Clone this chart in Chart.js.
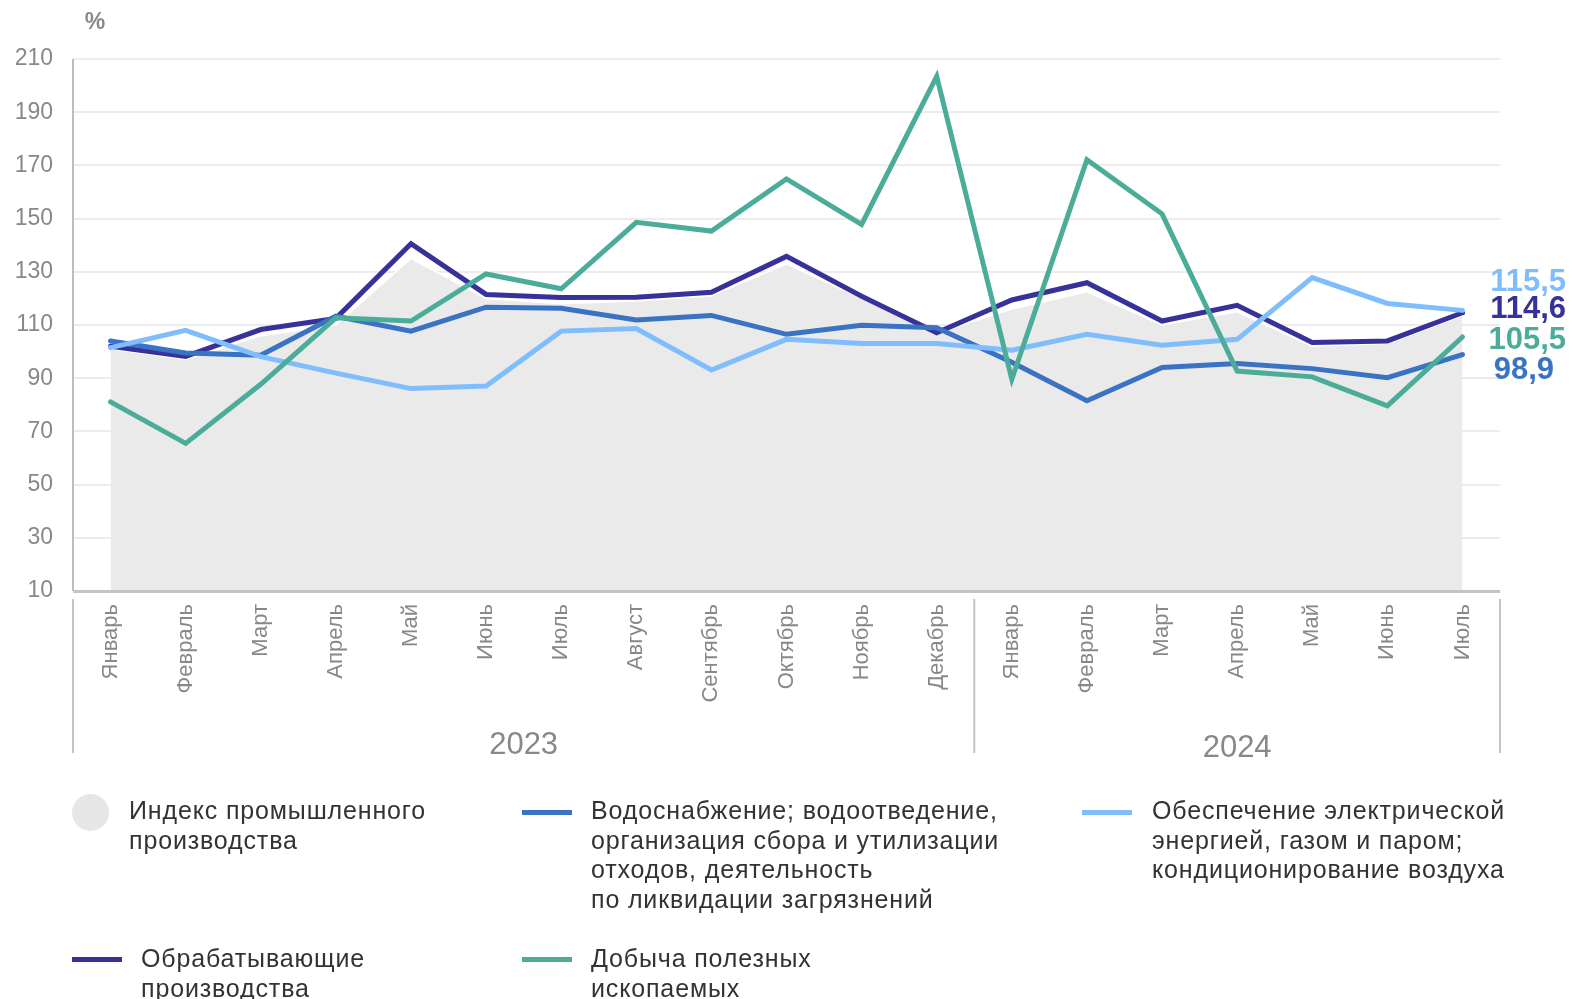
<!DOCTYPE html>
<html>
<head>
<meta charset="utf-8">
<script src="https://cdn.jsdelivr.net/npm/chart.js@4/dist/chart.umd.min.js"></script>
<style>
  html, body { margin: 0; padding: 0; background: #fff; }
  #wrap { position: relative; width: 1573px; height: 999px; overflow: hidden; font-family: Arial, "Liberation Sans", sans-serif; }
  canvas { position: absolute; left: 0; top: 0; }
  .lg { position: absolute; font-size: 25px; line-height: 29.5px; letter-spacing: 0.85px; color: #333; white-space: nowrap; }
  .mk { position: absolute; height: 5px; width: 50px; }
  .dot { position: absolute; width: 37px; height: 37px; border-radius: 50%; background: #e6e6e6; }
</style>
</head>
<body>
<div id="wrap">
  <canvas id="c" width="1573" height="999"></canvas>
  <div class="dot" style="left:72px; top:794px;"></div>
  <div class="lg" style="left:129px; top:796px;">Индекс промышленного<br>производства</div>
  <div class="mk" style="left:522px; top:810px; background:#3a72c4;"></div>
  <div class="lg" style="left:591px; top:796px;">Водоснабжение; водоотведение,<br>организация сбора и утилизации<br>отходов, деятельность<br>по ликвидации загрязнений</div>
  <div class="mk" style="left:1082px; top:810px; background:#80bdfd;"></div>
  <div class="lg" style="left:1152px; top:796px;">Обеспечение электрической<br>энергией, газом и паром;<br>кондиционирование воздуха</div>
  <div class="mk" style="left:72px; top:957px; background:#36329a;"></div>
  <div class="lg" style="left:141px; top:944px;">Обрабатывающие<br>производства</div>
  <div class="mk" style="left:522px; top:957px; background:#4bac99;"></div>
  <div class="lg" style="left:591px; top:944px;">Добыча полезных<br>ископаемых</div>
</div>
<script>
// ---- data ----
const months = ["Январь","Февраль","Март","Апрель","Май","Июнь","Июль","Август","Сентябрь","Октябрь","Ноябрь","Декабрь",
                "Январь","Февраль","Март","Апрель","Май","Июнь","Июль"];
const years = ["2023", "2024"];
const yearMonthCounts = [12, 7];
const yTicks = [10, 30, 50, 70, 90, 110, 130, 150, 170, 190, 210];

const industrialIndex = [101, 97, 106, 110, 135, 120, 118, 119, 121, 133, 120, 107, 116, 122.5, 110, 115, 102, 103, 113.5];
const manufacturing   = [102, 98.2, 108.3, 112.5, 140.6, 121.5, 120.3, 120.4, 122.3, 135.8, 120.8, 107.1, 119.4, 125.9, 111.5, 117.4, 103.4, 104, 114.6];
const waterSupply     = [104, 99.5, 98.6, 113.3, 107.7, 116.7, 116.3, 111.9, 113.6, 106.5, 109.9, 109, 96, 81.5, 94, 95.5, 93.6, 90.2, 98.9];
const electricity     = [101.5, 108, 98.1, 91.9, 86.1, 87.1, 107.7, 108.7, 93.1, 104.6, 103, 103, 100.5, 106.5, 102.4, 104.6, 127.8, 118.1, 115.5];
const mining          = [81.1, 65.5, 87.7, 112.7, 111.5, 129.2, 123.6, 148.6, 145.3, 164.9, 147.8, 203.5, 89.6, 172.1, 151.8, 92.7, 90.5, 79.6, 105.5];

const endLabels = [
  { text: "115,5", data: electricity,   color: "#80bdfd", dy: -28 },
  { text: "114,6", data: manufacturing, color: "#36329a", dy: -3 },
  { text: "105,5", data: mining,        color: "#4bac99", dy: 3 },
  { text: "98,9",  data: waterSupply,   color: "#3a72c4", dy: 16 }
];

const FONT = 'Arial, "Liberation Sans", sans-serif';

const decorPlugin = {
  id: 'decor',
  afterDraw(chart) {
    const ctx = chart.ctx;
    const xs = chart.scales.x, ys = chart.scales.y;
    const area = chart.chartArea;
    ctx.save();
    // axis lines
    ctx.strokeStyle = '#bdbdbd';
    ctx.lineWidth = 2;
    ctx.beginPath();
    ctx.moveTo(area.left, area.top); ctx.lineTo(area.left, area.bottom);
    ctx.stroke();
    ctx.lineWidth = 3;
    ctx.strokeStyle = '#c4c4c4';
    ctx.beginPath();
    ctx.moveTo(area.left, area.bottom + 0.5); ctx.lineTo(area.right, area.bottom + 0.5);
    ctx.stroke();
    // group separators
    const step = xs.getPixelForValue(1) - xs.getPixelForValue(0);
    const seps = [area.left];
    let idx = 0;
    yearMonthCounts.forEach((n) => { idx += n; seps.push(xs.getPixelForValue(idx - 1) + step / 2); });
    ctx.lineWidth = 2;
    ctx.strokeStyle = '#c4c4c4';
    seps.forEach(x => {
      ctx.beginPath(); ctx.moveTo(x, area.bottom + 8); ctx.lineTo(x, area.bottom + 162); ctx.stroke();
    });
    // year labels
    ctx.fillStyle = '#888';
    ctx.font = '31px ' + FONT;
    ctx.textAlign = 'center';
    ctx.textBaseline = 'middle';
    years.forEach((y, i) => {
      ctx.fillText(y, (seps[i] + seps[i + 1]) / 2, area.bottom + 154 + i * 3);
    });
    // % label
    ctx.font = 'bold 23px ' + FONT;
    ctx.textAlign = 'center';
    ctx.fillStyle = '#888';
    ctx.fillText('%', 95, 23);
    // end labels
    ctx.font = 'bold 31px ' + FONT;
    ctx.textAlign = 'right';
    const last = months.length - 1;
    endLabels.forEach(l => {
      const py = ys.getPixelForValue(l.data[last]);
      ctx.fillStyle = l.color;
      ctx.fillText(l.text, l.text.length === 4 ? 1554 : 1566, py + l.dy);
    });
    ctx.restore();
  }
};

new Chart(document.getElementById('c'), {
  type: 'line',
  data: {
    labels: months,
    datasets: [
      { label: 'Индекс промышленного производства', data: industrialIndex, fill: 'start', backgroundColor: '#eaeaea',
        borderColor: '#ffffff', borderWidth: 1.5, pointRadius: 0, tension: 0, order: 5 },
      { label: 'Обрабатывающие производства', data: manufacturing, borderColor: '#36329a', borderWidth: 5, pointRadius: 0, fill: false, tension: 0, order: 4 },
      { label: 'Водоснабжение', data: waterSupply, borderColor: '#3a72c4', borderWidth: 5, pointRadius: 0, fill: false, tension: 0, order: 3 },
      { label: 'Обеспечение электрической энергией', data: electricity, borderColor: '#80bdfd', borderWidth: 5, pointRadius: 0, fill: false, tension: 0, order: 2 },
      { label: 'Добыча полезных ископаемых', data: mining, borderColor: '#4bac99', borderWidth: 5, pointRadius: 0, fill: false, tension: 0, order: 1 }
    ]
  },
  options: {
    responsive: false,
    animation: false,
    events: [],
    layout: { padding: { top: 59, right: 73, left: 0, bottom: 0 } },
    plugins: { legend: { display: false }, tooltip: { enabled: false } },
    elements: { line: { borderCapStyle: 'round', borderJoinStyle: 'miter' } },
    scales: {
      x: {
        offset: true,
        grid: { display: false, drawTicks: false },
        border: { display: false },
        ticks: { color: '#888', font: { size: 22, family: FONT }, minRotation: 90, maxRotation: 90, padding: 13, autoSkip: false },
        afterFit(s) { s.height = 999 - 591; }
      },
      y: {
        min: 10, max: 210,
        afterBuildTicks(s) { s.ticks = yTicks.map(v => ({ value: v })); },
        grid: { color: '#ececec', lineWidth: 2, drawTicks: false },
        border: { display: false },
        ticks: { color: '#888', font: { size: 23, family: FONT }, padding: 20 },
        afterFit(s) { s.width = 73; }
      }
    }
  },
  plugins: [decorPlugin]
});
</script>
</body>
</html>
